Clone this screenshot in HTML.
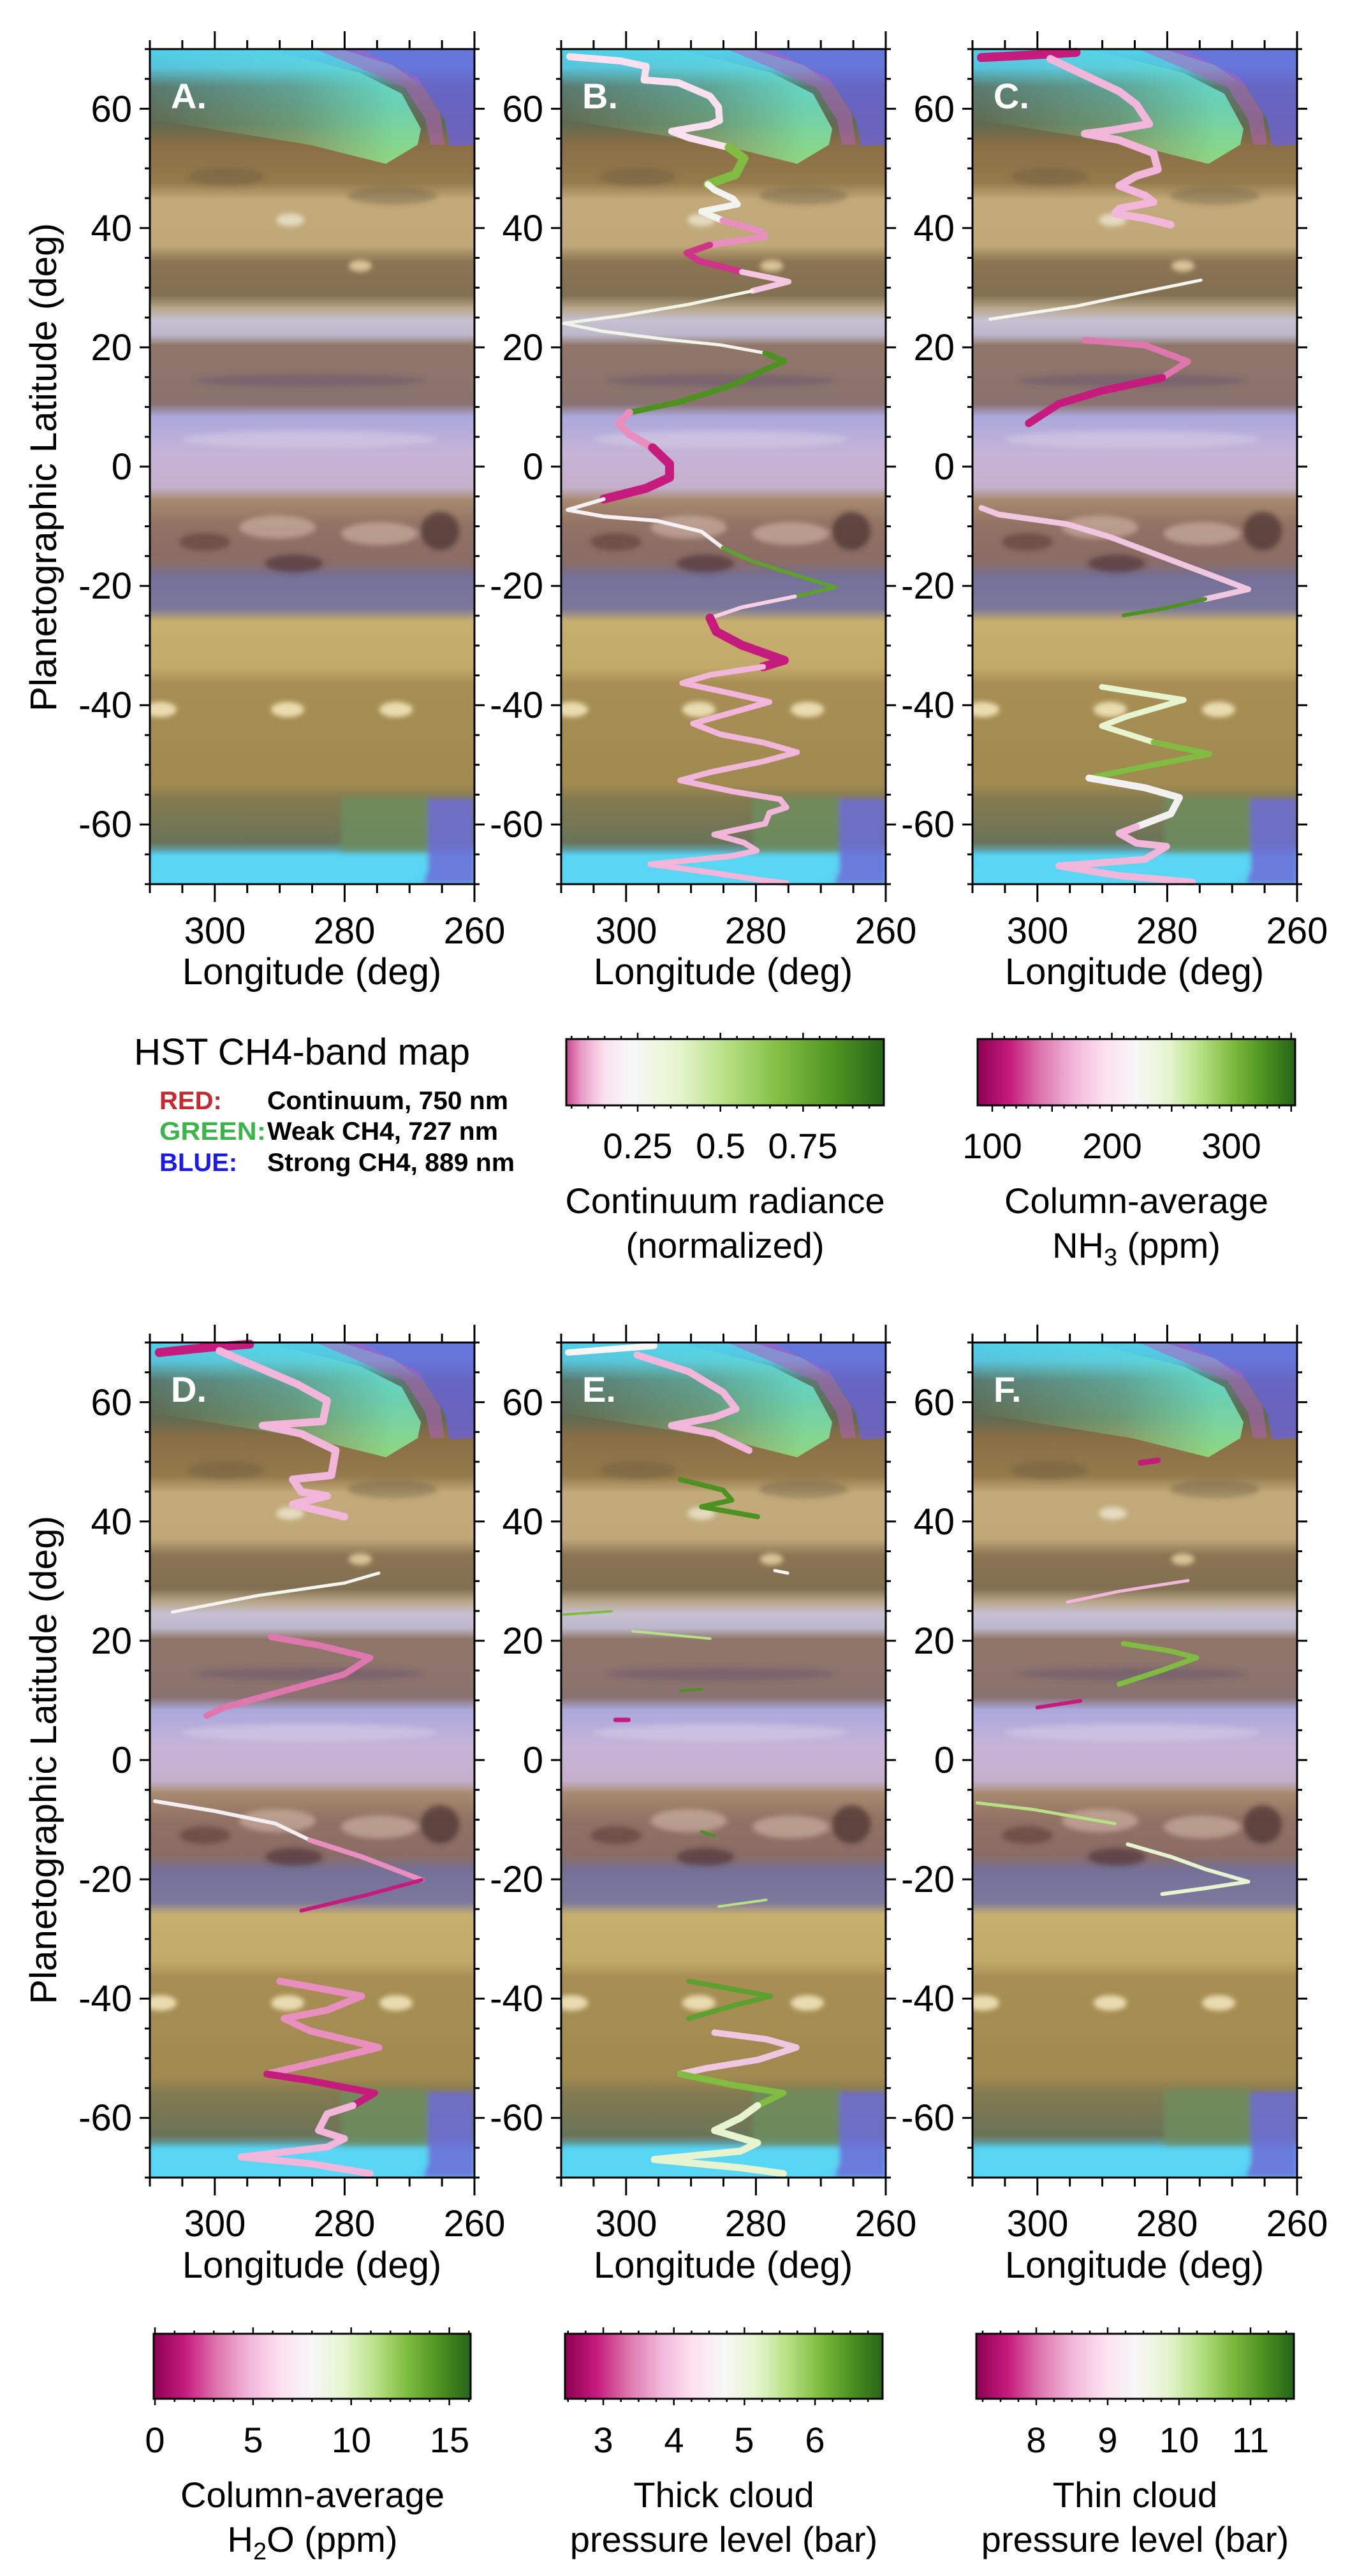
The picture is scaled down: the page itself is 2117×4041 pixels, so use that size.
<!DOCTYPE html>
<html><head><meta charset="utf-8"><style>
html,body{margin:0;padding:0;background:#fff}
svg{display:block}
text{font-family:"Liberation Sans",sans-serif;fill:#000}
</style></head><body>
<svg xmlns="http://www.w3.org/2000/svg" xmlns:xlink="http://www.w3.org/1999/xlink" width="2117" height="4041" viewBox="0 0 2117 4041">
<defs>
<linearGradient id="bands" x1="0" y1="0" x2="0" y2="1">
<stop offset="0" stop-color="#4fd0ec"/><stop offset="0.022" stop-color="#58c4dc"/>
<stop offset="0.045" stop-color="#5a7a70"/><stop offset="0.09" stop-color="#626a50"/>
<stop offset="0.115" stop-color="#8a6e45"/><stop offset="0.16" stop-color="#957a4c"/>
<stop offset="0.18" stop-color="#c2aa7a"/><stop offset="0.235" stop-color="#c0a878"/>
<stop offset="0.255" stop-color="#8a7452"/><stop offset="0.295" stop-color="#827052"/>
<stop offset="0.31" stop-color="#b8a688"/><stop offset="0.325" stop-color="#c6c0d2"/>
<stop offset="0.342" stop-color="#bdb8cc"/><stop offset="0.355" stop-color="#907668"/>
<stop offset="0.425" stop-color="#8a7270"/><stop offset="0.44" stop-color="#aaa8dc"/>
<stop offset="0.485" stop-color="#c7b4d6"/><stop offset="0.525" stop-color="#c4b0cc"/>
<stop offset="0.54" stop-color="#a88a70"/><stop offset="0.57" stop-color="#927264"/>
<stop offset="0.615" stop-color="#8a6c66"/><stop offset="0.632" stop-color="#747098"/>
<stop offset="0.67" stop-color="#7c789c"/><stop offset="0.685" stop-color="#c6ae6e"/>
<stop offset="0.74" stop-color="#c2aa6a"/><stop offset="0.76" stop-color="#a88e54"/>
<stop offset="0.88" stop-color="#a08a50"/><stop offset="0.9" stop-color="#827a50"/>
<stop offset="0.95" stop-color="#6a7458"/><stop offset="0.968" stop-color="#55c6ee"/><stop offset="1" stop-color="#58d4f4"/>
</linearGradient>
<linearGradient id="cap" x1="0" y1="0" x2="0" y2="1">
<stop offset="0" stop-color="#5ae0e8"/><stop offset="0.5" stop-color="#6cd0b0"/><stop offset="1" stop-color="#90d880"/>
</linearGradient>
<linearGradient id="capfade" x1="0" y1="0" x2="1" y2="0">
<stop offset="0" stop-color="#fff" stop-opacity="0"/><stop offset="0.45" stop-color="#fff" stop-opacity="0.45"/><stop offset="0.75" stop-color="#fff" stop-opacity="1"/>
</linearGradient>
<mask id="capmask"><rect x="0" y="0" width="509" height="220" fill="url(#capfade)"/></mask>
<filter id="soft"><feGaussianBlur stdDeviation="4"/></filter>
<linearGradient id="piyg" x1="0" y1="0" x2="1" y2="0">
<stop offset="0" stop-color="#8e0152"/><stop offset="0.1" stop-color="#c51b7d"/><stop offset="0.2" stop-color="#de77ae"/>
<stop offset="0.3" stop-color="#f1b6da"/><stop offset="0.4" stop-color="#fde0ef"/><stop offset="0.5" stop-color="#f7f7f7"/>
<stop offset="0.6" stop-color="#e6f5d0"/><stop offset="0.7" stop-color="#b8e186"/><stop offset="0.8" stop-color="#7fbc41"/>
<stop offset="0.9" stop-color="#4d9221"/><stop offset="1" stop-color="#276419"/>
</linearGradient>
<linearGradient id="piygB" x1="0" y1="0" x2="1" y2="0">
<stop offset="0" stop-color="#c8438e"/><stop offset="0.05" stop-color="#e9a0c9"/><stop offset="0.12" stop-color="#fbe0ef"/>
<stop offset="0.2" stop-color="#f7f7f7"/><stop offset="0.35" stop-color="#e6f5d0"/><stop offset="0.5" stop-color="#b8e186"/>
<stop offset="0.68" stop-color="#7fbc41"/><stop offset="0.85" stop-color="#4d9221"/><stop offset="1" stop-color="#276419"/>
</linearGradient>
<clipPath id="pclip"><rect x="0" y="0" width="509" height="1310"/></clipPath>
<g id="map">
<rect x="0" y="0" width="509" height="1310" fill="url(#bands)"/>
<g clip-path="url(#pclip)">
<polygon points="300,0 509,0 509,150 470,152 462,110 430,60 380,25" fill="#6a62d8" opacity="0.8"/>
<polygon points="260,0 330,0 420,45 455,100 462,150 440,150 432,110 400,60" fill="#b060c0" opacity="0.55"/>
<g mask="url(#capmask)"><polygon points="0,0 180,0 330,37 395,70 425,125 420,150 370,180 250,150 0,110" fill="url(#cap)"/></g>
<g filter="url(#soft)">
<rect x="300" y="1172" width="136" height="100" fill="#6e9060" opacity="0.75"/>
<polygon points="436,1175 509,1175 509,1310 430,1310 436,1285" fill="#6c6cd8" opacity="0.85"/>
<polygon points="0,1262 436,1262 436,1290 400,1310 0,1310" fill="#58d6f4"/>
<ellipse cx="220" cy="268" rx="22" ry="10" fill="#e4dac0"/>
<ellipse cx="330" cy="340" rx="18" ry="9" fill="#d8c498"/>
<ellipse cx="16" cy="1036" rx="26" ry="12" fill="#eadcb0"/>
<ellipse cx="216" cy="1036" rx="26" ry="12" fill="#eadcb0"/>
<ellipse cx="386" cy="1036" rx="26" ry="12" fill="#eadcb0"/>
<ellipse cx="86" cy="773" rx="40" ry="14" fill="#5a3a38" opacity="0.6"/>
<ellipse cx="226" cy="807" rx="45" ry="14" fill="#4a2e30" opacity="0.6"/>
<ellipse cx="455" cy="756" rx="30" ry="30" fill="#3a2426" opacity="0.6"/>
<ellipse cx="200" cy="750" rx="60" ry="18" fill="#e0c8b8" opacity="0.5"/>
<ellipse cx="360" cy="760" rx="60" ry="18" fill="#e0c8b8" opacity="0.5"/>
<ellipse cx="250" cy="520" rx="180" ry="10" fill="#5a4a70" opacity="0.35"/>
<ellipse cx="250" cy="612" rx="200" ry="14" fill="#e8e0f0" opacity="0.35"/>
<ellipse cx="120" cy="200" rx="60" ry="14" fill="#6a5a40" opacity="0.4"/>
<ellipse cx="380" cy="230" rx="70" ry="14" fill="#6a5a40" opacity="0.4"/>
</g></g>
</g>
<g id="frame" fill="none" stroke="#000" stroke-width="3">
<rect x="0" y="0" width="509" height="1310"/>
<path d="M0 1310v14M50.9 1310v14M101.8 1310v28M152.7 1310v14M203.6 1310v14M254.5 1310v14M305.4 1310v28M356.3 1310v14M407.2 1310v14M458.1 1310v14M509 1310v28
M0 0v-14M50.9 0v-14M101.8 0v-28M152.7 0v-14M203.6 0v-14M254.5 0v-14M305.4 0v-28M356.3 0v-14M407.2 0v-14M458.1 0v-14M509 0v-28"/>
<path d="M0 0h-8M0 46.8h-8M0 93.6h-16M0 140.4h-8M0 187.1h-8M0 233.9h-8M0 280.7h-16M0 327.5h-8M0 374.3h-8M0 421.1h-8M0 467.9h-16M0 514.6h-8M0 561.4h-8M0 608.2h-8M0 655h-16M0 701.8h-8M0 748.6h-8M0 795.3h-8M0 842.1h-16M0 888.9h-8M0 935.7h-8M0 982.5h-8M0 1029.3h-16M0 1076.1h-8M0 1122.8h-8M0 1169.6h-8M0 1216.4h-16M0 1263.2h-8M0 1310h-8
M509 0h8M509 46.8h8M509 93.6h16M509 140.4h8M509 187.1h8M509 233.9h8M509 280.7h16M509 327.5h8M509 374.3h8M509 421.1h8M509 467.9h16M509 514.6h8M509 561.4h8M509 608.2h8M509 655h16M509 701.8h8M509 748.6h8M509 795.3h8M509 842.1h16M509 888.9h8M509 935.7h8M509 982.5h8M509 1029.3h16M509 1076.1h8M509 1122.8h8M509 1169.6h8M509 1216.4h16M509 1263.2h8M509 1310h8"/>
</g>
<g id="ylabs" font-size="58" text-anchor="end">
<text x="0" y="114">60</text><text x="0" y="301">40</text><text x="0" y="488">20</text><text x="0" y="675">0</text>
<text x="0" y="862">-20</text><text x="0" y="1049">-40</text><text x="0" y="1236">-60</text>
</g>
</defs>

<use xlink:href="#map" x="235" y="77"/><use xlink:href="#map" x="880" y="77"/><use xlink:href="#map" x="1525" y="77"/>
<use xlink:href="#map" x="235" y="2106"/><use xlink:href="#map" x="880" y="2106"/><use xlink:href="#map" x="1525" y="2106"/>

<g fill="none" stroke-linecap="round" stroke-linejoin="round" transform="translate(880,77) scale(0.3333,0.8485) translate(0,-8)">
<polyline vector-effect="non-scaling-stroke" stroke="#fbe0ef" stroke-width="11" points="40,22 280,30 400,40 390,65 550,70 700,95 740,115 745,140 700,148 520,160 600,172 790,190"/>
<polyline vector-effect="non-scaling-stroke" stroke="#7fbc41" stroke-width="14" points="790,190 860,210 820,240 690,258"/>
<polyline vector-effect="non-scaling-stroke" stroke="#f3f3f0" stroke-width="10" points="690,258 720,268 810,285 830,295 660,308 760,325"/>
<polyline vector-effect="non-scaling-stroke" stroke="#e88fc0" stroke-width="10" points="760,325 940,345 960,355 700,370"/>
<polyline vector-effect="non-scaling-stroke" stroke="#d0348a" stroke-width="10" points="700,370 590,385 650,400 850,420"/>
<polyline vector-effect="non-scaling-stroke" stroke="#f5c6e0" stroke-width="9" points="850,420 1000,432 1070,438 900,455"/>
<polyline vector-effect="non-scaling-stroke" stroke="#f0f5e8" stroke-width="5" points="900,455 600,480 300,500 10,515 200,530 500,545 750,555 960,570"/>
<polyline vector-effect="non-scaling-stroke" stroke="#4d9221" stroke-width="9" points="960,570 1050,585 960,600 800,630 560,660 320,680"/>
<polyline vector-effect="non-scaling-stroke" stroke="#e88fc0" stroke-width="12" points="320,680 270,700 320,720 430,745"/>
<polyline vector-effect="non-scaling-stroke" stroke="#c51b7d" stroke-width="14" points="430,745 510,775 510,800 400,820 200,840"/>
<polyline vector-effect="non-scaling-stroke" stroke="#f7f0f5" stroke-width="6" points="200,840 30,860 200,872 450,880 660,900 760,930"/>
<polyline vector-effect="non-scaling-stroke" stroke="#5da030" stroke-width="6" points="760,930 900,955 1100,980 1290,1003 1100,1020"/>
<polyline vector-effect="non-scaling-stroke" stroke="#f5d0e6" stroke-width="6" points="1100,1020 850,1040 700,1060"/>
<polyline vector-effect="non-scaling-stroke" stroke="#c51b7d" stroke-width="14" points="700,1060 730,1085 850,1110 1050,1138 950,1150"/>
<polyline vector-effect="non-scaling-stroke" stroke="#f1b6da" stroke-width="9" points="950,1150 700,1165 570,1180 750,1195 980,1215 800,1235 620,1255 750,1275 950,1290 1110,1308 950,1325 700,1345 560,1360 800,1380 1030,1395 1060,1410 980,1420 960,1440 720,1460 860,1475 920,1490 800,1500 420,1515 700,1530 950,1545 1060,1550"/>
</g>

<g fill="none" stroke-linecap="round" stroke-linejoin="round" transform="translate(0,0.4) scale(1.35,1.021)">
<polyline vector-effect="non-scaling-stroke" stroke="#c51b7d" stroke-width="14" points="1140,88 1200,84 1250,80"/>
<polyline vector-effect="non-scaling-stroke" stroke="#f1b6da" stroke-width="12" points="1220,90 1260,115 1300,140 1320,160 1335,190 1290,200 1260,205 1300,215 1340,235 1345,260 1320,270 1300,285 1330,300 1340,310 1300,320 1295,328 1330,335 1360,345"/>
<polyline vector-effect="non-scaling-stroke" stroke="#f5f5f0" stroke-width="5" points="1150,490 1250,470 1340,445 1395,430"/>
<polyline vector-effect="non-scaling-stroke" stroke="#de77ae" stroke-width="10" points="1260,522 1330,530 1380,555 1350,580"/>
<polyline vector-effect="non-scaling-stroke" stroke="#c51b7d" stroke-width="12" points="1350,580 1280,600 1230,620 1195,650"/>
<polyline vector-effect="non-scaling-stroke" stroke="#f1c6e0" stroke-width="9" points="1140,780 1160,790 1240,805 1290,825 1330,845 1380,870 1450,905 1400,920"/>
<polyline vector-effect="non-scaling-stroke" stroke="#4d9221" stroke-width="6" points="1400,920 1350,935 1305,945"/>
<polyline vector-effect="non-scaling-stroke" stroke="#e6f5d0" stroke-width="9" points="1280,1055 1375,1075 1310,1100 1280,1115 1340,1140"/>
<polyline vector-effect="non-scaling-stroke" stroke="#7fbc41" stroke-width="9" points="1340,1140 1405,1158 1320,1180 1265,1195"/>
<polyline vector-effect="non-scaling-stroke" stroke="#f3f0f0" stroke-width="11" points="1265,1195 1330,1210 1370,1225 1360,1250 1320,1270"/>
<polyline vector-effect="non-scaling-stroke" stroke="#f1b6da" stroke-width="11" points="1320,1270 1300,1280 1320,1295 1355,1300 1330,1320 1230,1330 1300,1345 1385,1355"/>
</g>

<g fill="none" stroke-linecap="round" stroke-linejoin="round" transform="translate(0,2002) scale(1.35,1.301)">
<polyline vector-effect="non-scaling-stroke" stroke="#c51b7d" stroke-width="14" points="185,92 240,86 290,82"/>
<polyline vector-effect="non-scaling-stroke" stroke="#f1b6da" stroke-width="12" points="255,90 300,110 345,130 380,150 375,175 305,180 350,190 390,210 385,240 340,245 350,260 380,265 340,275 400,290"/>
<polyline vector-effect="non-scaling-stroke" stroke="#f5f5f0" stroke-width="5" points="200,405 300,385 400,370 440,358"/>
<polyline vector-effect="non-scaling-stroke" stroke="#de77ae" stroke-width="10" points="315,435 370,445 430,460 400,480 330,500 260,520 240,530"/>
<polyline vector-effect="non-scaling-stroke" stroke="#f3eef0" stroke-width="6" points="180,633 250,645 320,660 360,680"/>
<polyline vector-effect="non-scaling-stroke" stroke="#e88fc0" stroke-width="8" points="360,680 420,700 490,728"/>
<polyline vector-effect="non-scaling-stroke" stroke="#c51b7d" stroke-width="6" points="490,728 430,745 350,765"/>
<polyline vector-effect="non-scaling-stroke" stroke="#e88fc0" stroke-width="11" points="325,850 420,868 380,885 330,895 360,910 440,930 380,945 310,962"/>
<polyline vector-effect="non-scaling-stroke" stroke="#c51b7d" stroke-width="11" points="310,962 360,970 435,985 410,1000"/>
<polyline vector-effect="non-scaling-stroke" stroke="#f1b6da" stroke-width="11" points="410,1000 380,1010 370,1030 400,1040 380,1050 280,1062 360,1070 430,1082"/>

<polyline vector-effect="non-scaling-stroke" stroke="#f7f7f7" stroke-width="10" points="660,92 710,88 760,84"/>
<polyline vector-effect="non-scaling-stroke" stroke="#f1b6da" stroke-width="11" points="740,95 800,115 840,140 855,160 830,170 780,180 830,190 870,210"/>
<polyline vector-effect="non-scaling-stroke" stroke="#4d9221" stroke-width="8" points="790,245 840,258 850,270 815,278 880,290"/>
<polyline vector-effect="non-scaling-stroke" stroke="#f7f7f7" stroke-width="5" points="900,355 915,358"/>
<polyline vector-effect="non-scaling-stroke" stroke="#7fbc41" stroke-width="4" points="655,408 710,404"/>
<polyline vector-effect="non-scaling-stroke" stroke="#b8e186" stroke-width="4" points="735,428 825,437"/>
<polyline vector-effect="non-scaling-stroke" stroke="#4d9221" stroke-width="4" points="790,500 815,498"/>
<polyline vector-effect="non-scaling-stroke" stroke="#c51b7d" stroke-width="7" points="715,535 730,535"/>
<polyline vector-effect="non-scaling-stroke" stroke="#4d9221" stroke-width="5" points="815,670 830,675"/>
<polyline vector-effect="non-scaling-stroke" stroke="#b8e186" stroke-width="4" points="835,760 890,752"/>
<polyline vector-effect="non-scaling-stroke" stroke="#5da030" stroke-width="8" points="800,850 895,868 850,880 800,895"/>
<polyline vector-effect="non-scaling-stroke" stroke="#f1c6e0" stroke-width="10" points="830,912 890,920 925,930 880,945 820,955 790,962"/>
<polyline vector-effect="non-scaling-stroke" stroke="#7fbc41" stroke-width="10" points="790,962 850,975 910,985 880,1000"/>
<polyline vector-effect="non-scaling-stroke" stroke="#e6f5d0" stroke-width="11" points="880,1000 860,1015 830,1030 880,1045 860,1055 760,1065 860,1075 910,1082"/>

<polyline vector-effect="non-scaling-stroke" stroke="#c51b7d" stroke-width="9" points="1325,225 1345,222"/>
<polyline vector-effect="non-scaling-stroke" stroke="#f1b6da" stroke-width="5" points="1240,393 1300,380 1380,367"/>
<polyline vector-effect="non-scaling-stroke" stroke="#7fbc41" stroke-width="8" points="1305,443 1360,452 1390,460 1350,475 1300,492"/>
<polyline vector-effect="non-scaling-stroke" stroke="#c51b7d" stroke-width="6" points="1205,520 1255,512"/>
<polyline vector-effect="non-scaling-stroke" stroke="#b8e186" stroke-width="5" points="1135,635 1200,643 1250,652 1295,660"/>
<polyline vector-effect="non-scaling-stroke" stroke="#e6f5d0" stroke-width="6" points="1310,685 1360,700 1400,715 1450,730 1400,738 1350,745"/>
</g>

<use xlink:href="#frame" x="235" y="77"/><use xlink:href="#frame" x="880" y="77"/><use xlink:href="#frame" x="1525" y="77"/>
<use xlink:href="#frame" x="235" y="2106"/><use xlink:href="#frame" x="880" y="2106"/><use xlink:href="#frame" x="1525" y="2106"/>

<g font-size="56" font-weight="bold">
<text x="268" y="170" style="fill:#fff">A.</text><text x="913" y="170" style="fill:#fff">B.</text><text x="1558" y="170" style="fill:#fff">C.</text>
<text x="268" y="2199" style="fill:#fff">D.</text><text x="913" y="2199" style="fill:#fff">E.</text><text x="1558" y="2199" style="fill:#fff">F.</text>
</g>

<use xlink:href="#ylabs" x="207" y="77"/><use xlink:href="#ylabs" x="852" y="77"/><use xlink:href="#ylabs" x="1497" y="77"/>
<use xlink:href="#ylabs" x="207" y="2106"/><use xlink:href="#ylabs" x="852" y="2106"/><use xlink:href="#ylabs" x="1497" y="2106"/>
<text font-size="58" text-anchor="middle" transform="translate(88,733) rotate(-90)" textLength="766" lengthAdjust="spacingAndGlyphs">Planetographic Latitude (deg)</text>
<text font-size="58" text-anchor="middle" transform="translate(88,2761) rotate(-90)" textLength="766" lengthAdjust="spacingAndGlyphs">Planetographic Latitude (deg)</text>

<g font-size="58" text-anchor="middle">
<text x="337" y="1480">300</text><text x="540" y="1480">280</text><text x="744" y="1480">260</text>
<text x="982" y="1480">300</text><text x="1185" y="1480">280</text><text x="1389" y="1480">260</text>
<text x="1627" y="1480">300</text><text x="1830" y="1480">280</text><text x="2034" y="1480">260</text>
<text x="489" y="1544">Longitude (deg)</text><text x="1134" y="1544">Longitude (deg)</text><text x="1779" y="1544">Longitude (deg)</text>
<text x="337" y="3508">300</text><text x="540" y="3508">280</text><text x="744" y="3508">260</text>
<text x="982" y="3508">300</text><text x="1185" y="3508">280</text><text x="1389" y="3508">260</text>
<text x="1627" y="3508">300</text><text x="1830" y="3508">280</text><text x="2034" y="3508">260</text>
<text x="489" y="3573">Longitude (deg)</text><text x="1134" y="3573">Longitude (deg)</text><text x="1779" y="3573">Longitude (deg)</text>
</g>

<text x="210" y="1670" font-size="58" textLength="527" lengthAdjust="spacingAndGlyphs">HST CH4-band map</text>
<g font-size="40" font-weight="bold">
<text x="250" y="1740" style="fill:#c8282e">RED:</text><text x="419" y="1740" textLength="378" lengthAdjust="spacingAndGlyphs">Continuum, 750 nm</text>
<text x="250" y="1788" style="fill:#3cb44a" textLength="167" lengthAdjust="spacingAndGlyphs">GREEN:</text><text x="419" y="1788" textLength="362" lengthAdjust="spacingAndGlyphs">Weak CH4, 727 nm</text>
<text x="250" y="1837" style="fill:#1a1aee">BLUE:</text><text x="419" y="1837" textLength="388" lengthAdjust="spacingAndGlyphs">Strong CH4, 889 nm</text>
</g>

<g stroke="#000" stroke-width="3" fill="none">
<rect x="888" y="1630" width="498" height="104" fill="url(#piygB)"/>
<rect x="1533" y="1630" width="498" height="104" fill="url(#piyg)"/>
<rect x="241" y="3661" width="497" height="102" fill="url(#piyg)"/>
<rect x="886" y="3661" width="498" height="102" fill="url(#piyg)"/>
<rect x="1531" y="3661" width="498" height="102" fill="url(#piyg)"/>
</g>
<g stroke="#000" stroke-width="2.5" fill="none">
<g transform="translate(0,1630)"><path d="M896.3 0v-5M922.2 0v-5M948.1 0v-5M974.1 0v-5M1000 0v-10M1025.9 0v-5M1051.9 0v-5M1077.8 0v-5M1103.8 0v-5M1129.7 0v-10M1155.6 0v-5M1181.6 0v-5M1207.5 0v-5M1233.4 0v-5M1259.4 0v-10M1285.3 0v-5M1311.3 0v-5M1337.2 0v-5M1363.1 0v-5"/></g>
<g transform="translate(0,1734) scale(1,-1)"><path d="M896.3 0v-5M922.2 0v-5M948.1 0v-5M974.1 0v-5M1000 0v-10M1025.9 0v-5M1051.9 0v-5M1077.8 0v-5M1103.8 0v-5M1129.7 0v-10M1155.6 0v-5M1181.6 0v-5M1207.5 0v-5M1233.4 0v-5M1259.4 0v-10M1285.3 0v-5M1311.3 0v-5M1337.2 0v-5M1363.1 0v-5"/></g>
<g transform="translate(0,1630)"><path d="M1556 0v-10M1574.8 0v-5M1593.5 0v-5M1612.3 0v-5M1631 0v-5M1649.8 0v-10M1668.5 0v-5M1687.3 0v-5M1706 0v-5M1724.8 0v-5M1743.5 0v-10M1762.3 0v-5M1781 0v-5M1799.8 0v-5M1818.5 0v-5M1837.3 0v-10M1856 0v-5M1874.8 0v-5M1893.5 0v-5M1912.3 0v-5M1931 0v-10M1949.8 0v-5M1968.5 0v-5M1987.3 0v-5M2006 0v-5M2024.8 0v-10"/></g>
<g transform="translate(0,1734) scale(1,-1)"><path d="M1556 0v-10M1574.8 0v-5M1593.5 0v-5M1612.3 0v-5M1631 0v-5M1649.8 0v-10M1668.5 0v-5M1687.3 0v-5M1706 0v-5M1724.8 0v-5M1743.5 0v-10M1762.3 0v-5M1781 0v-5M1799.8 0v-5M1818.5 0v-5M1837.3 0v-10M1856 0v-5M1874.8 0v-5M1893.5 0v-5M1912.3 0v-5M1931 0v-10M1949.8 0v-5M1968.5 0v-5M1987.3 0v-5M2006 0v-5M2024.8 0v-10"/></g>
<g transform="translate(0,3661)"><path d="M243 0v-10M273.8 0v-5M304.5 0v-5M335.3 0v-5M366.1 0v-5M396.9 0v-10M427.6 0v-5M458.4 0v-5M489.2 0v-5M519.9 0v-5M550.7 0v-10M581.5 0v-5M612.2 0v-5M643 0v-5M673.8 0v-5M704.6 0v-10M735.3 0v-5"/></g>
<g transform="translate(0,3763) scale(1,-1)"><path d="M243 0v-10M273.8 0v-5M304.5 0v-5M335.3 0v-5M366.1 0v-5M396.9 0v-10M427.6 0v-5M458.4 0v-5M489.2 0v-5M519.9 0v-5M550.7 0v-10M581.5 0v-5M612.2 0v-5M643 0v-5M673.8 0v-5M704.6 0v-10M735.3 0v-5"/></g>
<g transform="translate(0,3661)"><path d="M890.7 0v-5M918.3 0v-5M946 0v-10M973.7 0v-5M1001.4 0v-5M1029 0v-5M1056.7 0v-10M1084.4 0v-5M1112 0v-5M1139.7 0v-5M1167.4 0v-10M1195 0v-5M1222.7 0v-5M1250.4 0v-5M1278.1 0v-10M1305.8 0v-5M1333.4 0v-5M1361.1 0v-5"/></g>
<g transform="translate(0,3763) scale(1,-1)"><path d="M890.7 0v-5M918.3 0v-5M946 0v-10M973.7 0v-5M1001.4 0v-5M1029 0v-5M1056.7 0v-10M1084.4 0v-5M1112 0v-5M1139.7 0v-5M1167.4 0v-10M1195 0v-5M1222.7 0v-5M1250.4 0v-5M1278.1 0v-10M1305.8 0v-5M1333.4 0v-5M1361.1 0v-5"/></g>
<g transform="translate(0,3661)"><path d="M1541 0v-5M1569 0v-5M1597 0v-5M1625 0v-10M1653 0v-5M1681 0v-5M1709 0v-5M1737 0v-10M1765 0v-5M1793 0v-5M1821 0v-5M1849 0v-10M1877 0v-5M1905 0v-5M1933 0v-5M1961 0v-10M1989 0v-5M2017 0v-5"/></g>
<g transform="translate(0,3763) scale(1,-1)"><path d="M1541 0v-5M1569 0v-5M1597 0v-5M1625 0v-10M1653 0v-5M1681 0v-5M1709 0v-5M1737 0v-10M1765 0v-5M1793 0v-5M1821 0v-5M1849 0v-10M1877 0v-5M1905 0v-5M1933 0v-5M1961 0v-10M1989 0v-5M2017 0v-5"/></g>
</g>

<g font-size="56" text-anchor="middle">
<text x="1000" y="1817">0.25</text><text x="1130" y="1817">0.5</text><text x="1259" y="1817">0.75</text>
<text x="1556" y="1817">100</text><text x="1744" y="1817">200</text><text x="1931" y="1817">300</text>
<text x="1137" y="1903">Continuum radiance</text><text x="1137" y="1973">(normalized)</text>
<text x="1782" y="1903">Column-average</text><text x="1782" y="1973">NH<tspan font-size="38" dy="12">3</tspan><tspan dy="-12"> (ppm)</tspan></text>
<text x="243" y="3847">0</text><text x="397" y="3847">5</text><text x="551" y="3847">10</text><text x="705" y="3847">15</text>
<text x="946" y="3847">3</text><text x="1057" y="3847">4</text><text x="1167" y="3847">5</text><text x="1278" y="3847">6</text>
<text x="1625" y="3847">8</text><text x="1737" y="3847">9</text><text x="1849" y="3847">10</text><text x="1961" y="3847">11</text>
<text x="490" y="3933">Column-average</text><text x="490" y="4003">H<tspan font-size="38" dy="12">2</tspan><tspan dy="-12">O (ppm)</tspan></text>
<text x="1135" y="3933">Thick cloud</text><text x="1135" y="4003">pressure level (bar)</text>
<text x="1780" y="3933">Thin cloud</text><text x="1780" y="4003">pressure level (bar)</text>
</g>
</svg>
</body></html>
